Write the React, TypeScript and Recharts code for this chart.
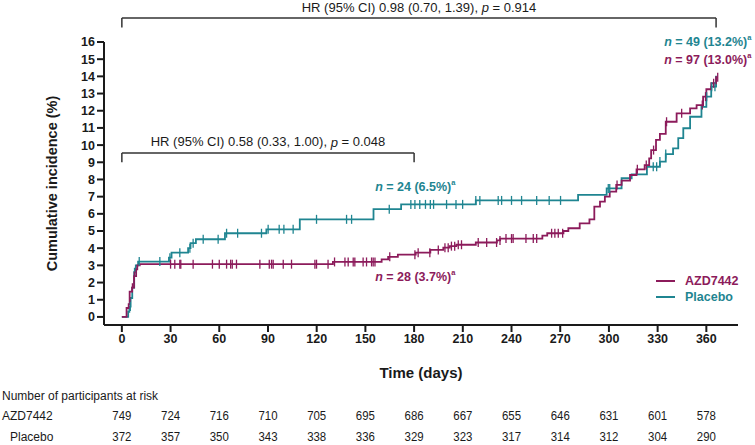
import React from 'react';
import { LineChart, Line, XAxis, YAxis, ReferenceLine, ReferenceDot } from 'recharts';

const PURPLE = '#8C1B5B';
const TEAL = '#1F8591';
const INK = '#1a1a1a';
const FONT = '"Liberation Sans", Arial, sans-serif';

const xTicks = [0, 30, 60, 90, 120, 150, 180, 210, 240, 270, 300, 330, 360];
const yTicks = [0, 1, 2, 3, 4, 5, 6, 7, 8, 9, 10, 11, 12, 13, 14, 15, 16];
const atRiskAZD = [749, 724, 716, 710, 705, 695, 686, 667, 655, 646, 631, 601, 578];
const atRiskPlacebo = [372, 357, 350, 343, 338, 336, 329, 323, 317, 314, 312, 304, 290];

// Kaplan-Meier style steps: [day, cumulative incidence %]
const azdSteps: [number, number][] = [
  [0, 0], [2.9, 0.52], [4.2, 0.75], [4.8, 1.47], [6.3, 1.7], [7.5, 2.38], [8.8, 2.77], [9.5, 3.0], [11, 3.07],
  [130, 3.2], [160, 3.35], [164, 3.5], [170, 3.62], [181, 3.74], [190, 3.9], [198, 4.03], [202, 4.12], [206, 4.2],
  [218, 4.33], [231, 4.45], [233, 4.56], [259, 4.73], [262, 4.87], [272, 5.0], [275, 5.16], [282, 5.45], [288, 5.68],
  [291, 6.42], [294.5, 6.71], [297.5, 7.0], [300.5, 7.29], [304.5, 7.68], [307.8, 7.93], [313, 8.26], [317, 8.59],
  [322, 8.84], [324.8, 9.23], [326, 9.71], [329, 10.3], [331.4, 10.65], [335, 11.36], [341.7, 11.85], [350, 12.14],
  [354, 12.33], [358, 12.82], [360, 13.25], [363, 13.6], [366, 13.95], [367, 13.95],
];
const azdCensors = [
  6.5, 7.7, 30, 32.6, 35.7, 36.3, 43.9, 55.8, 60, 64.5, 67, 68, 70.6, 85, 90.8, 92.2, 93.2, 99.4, 104.5, 118.9, 119.9,
  127, 131, 137.4, 139.4, 142.5, 143.5, 148.6, 150.7, 153.8, 154.8, 155.9, 165, 180.5, 182.5, 189.7, 194.9, 199, 201,
  203, 205, 207.2, 209.2, 219.5, 224.7, 230.8, 232.9, 236.6, 240, 241, 248.9, 253.4, 255.5, 264.7, 266.7, 268.8, 271.5,
  305, 317.5, 323, 327.5, 335.5, 344.8, 357.5, 359.5, 364.5, 367,
];

const placeboSteps: [number, number][] = [
  [0, 0], [3.9, 0.3], [4.6, 0.6], [5.4, 1.1], [6.4, 1.7], [7.6, 2.6], [8.6, 3.0], [10, 3.22],
  [29, 3.45], [30.6, 3.74], [40.8, 4.0], [42.3, 4.29], [45.6, 4.52], [63.5, 4.87], [89, 5.1], [109.6, 5.68],
  [155, 6.27], [172, 6.55], [218, 6.78], [281, 7.1], [298.6, 7.48], [307.8, 8.07], [314, 8.3], [323.4, 8.74],
  [331.4, 9.04], [335, 9.48], [339.5, 9.81], [342.7, 10.4], [345.8, 10.98], [350, 11.65], [357, 12.23], [360, 12.82],
  [363, 13.4], [366, 13.98], [366.5, 13.98],
];
const placeboCensors = [
  5.2, 7.8, 10.7, 23.4, 29.6, 35.7, 41.9, 43.9, 50.1, 59.3, 64.5, 71.3, 86, 90.1, 96.9, 99.8, 105.5, 119.9, 138.4,
  141.5, 164.7, 178, 180.5, 183.5, 187, 190, 192, 200, 205.8, 209.9, 218, 220.5, 231.8, 233.9, 240, 246.2, 255.5,
  263.2, 270.2, 299.6, 300.5, 327.3, 329.4, 331.4, 335, 360.2, 363.3, 365.3,
];

type Pt = { t: number; v: number; c: boolean };
function buildSeries(steps: [number, number][], censors: number[]): Pt[] {
  const pts: Pt[] = steps.map(([t, v]) => ({ t, v, c: false }));
  censors.forEach((ct) => {
    let v = 0;
    steps.forEach(([t, sv]) => {
      if (t <= ct) v = sv;
    });
    pts.push({ t: ct, v, c: true });
  });
  pts.sort((a, b) => a.t - b.t || (a.c ? 1 : 0) - (b.c ? 1 : 0));
  return pts;
}
const azdData = buildSeries(azdSteps, azdCensors);
const placeboData = buildSeries(placeboSteps, placeboCensors);

const censorDot = (color: string) => (props: any) => {
  const { cx, cy, payload, index } = props;
  if (!payload || !payload.c || cx == null || cy == null) return <g key={`d${index}`} />;
  return (
    <line key={`d${index}`} x1={cx} x2={cx} y1={cy - 4.5} y2={cy + 4.5} stroke={color} strokeWidth={1.3} />
  );
};

const centerOf = (vb: any) => ({ x: vb.x + (vb.width || 0) / 2, y: vb.y + (vb.height || 0) / 2 });

const hrLabel = (pre: string, post: string) => (props: any) => {
  const c = centerOf(props.viewBox);
  return (
    <text x={c.x} y={c.y} textAnchor="middle" dominantBaseline="central" fontFamily={FONT} fontSize={13} fill={INK}>
      {pre}
      <tspan fontStyle="italic">p</tspan>
      {post}
    </text>
  );
};

const nLabel = (count: string, pct: string, color: string) => (props: any) => {
  const c = centerOf(props.viewBox);
  return (
    <text x={c.x} y={c.y} textAnchor="start" dominantBaseline="central" fontFamily={FONT} fontSize={12.5} fontWeight={700} fill={color}>
      <tspan fontStyle="italic">n</tspan>
      {` = ${count} (${pct})`}
      <tspan fontSize={7.5} dy={-5}>a</tspan>
    </text>
  );
};

const riskLabel = (value: number) => (props: any) => {
  const c = centerOf(props.viewBox);
  return (
    <text transform={`translate(${c.x} ${c.y}) scale(0.88 1)`} x={0} y={0} textAnchor="middle" dominantBaseline="central" fontFamily={FONT} fontSize={13} fill={INK}>
      {String(value)}
    </text>
  );
};

const yLabel = (props: any) => {
  const vb = props.viewBox;
  const cx = vb.x + 8;
  const cy = vb.y + vb.height / 2;
  return (
    <text x={cx} y={cy} transform={`rotate(-90 ${cx} ${cy})`} textAnchor="middle" dominantBaseline="central" fontFamily={FONT} fontSize={14.5} fontWeight={700} fill={INK}>
      Cumulative incidence (%)
    </text>
  );
};

const tickStyle = { fontSize: 12.5, fontWeight: 700, fill: INK, fontFamily: FONT };

const rowLabel: React.CSSProperties = {
  position: 'absolute',
  fontFamily: FONT,
  fontSize: 12,
  color: INK,
  height: 16,
  lineHeight: '16px',
  whiteSpace: 'nowrap',
};

const ROW_AZD = -5.74;
const ROW_PLACEBO = -7.0;

export default function App() {
  return (
    <div style={{ position: 'absolute', left: 0, top: 0, width: 755, height: 445, background: '#fff', overflow: 'hidden' }}>
      <LineChart width={755} height={445} margin={{ top: 42, right: 17, bottom: 0, left: 44 }}>
        <XAxis
          xAxisId="main"
          type="number"
          dataKey="t"
          domain={[-11, 379.5]}
          ticks={xTicks}
          interval={0}
          allowDataOverflow
          height={120}
          tickSize={7}
          tickMargin={2}
          tick={tickStyle}
          stroke={INK}
          strokeWidth={2}
          label={{ value: 'Time (days)', position: 'insideTop', offset: 42, fontSize: 15, fontWeight: 700, fill: INK, fontFamily: FONT }}
        />
        <YAxis
          type="number"
          domain={[-0.47, 16]}
          ticks={yTicks}
          interval={0}
          allowDataOverflow
          width={60}
          tickSize={7}
          tickMargin={2}
          tick={tickStyle}
          stroke={INK}
          strokeWidth={2}
          label={{ content: yLabel }}
        />

        {/* HR brackets */}
        <ReferenceLine xAxisId="main" ifOverflow="visible" stroke="#333" strokeWidth={1.5} segment={[{ x: 0, y: 17.39 }, { x: 366, y: 17.39 }]} />
        <ReferenceLine xAxisId="main" ifOverflow="visible" stroke="#333" strokeWidth={1.5} segment={[{ x: 0, y: 17.39 }, { x: 0, y: 16.85 }]} />
        <ReferenceLine xAxisId="main" ifOverflow="visible" stroke="#333" strokeWidth={1.5} segment={[{ x: 366, y: 17.39 }, { x: 366, y: 16.85 }]} />
        <ReferenceLine xAxisId="main" ifOverflow="visible" stroke="#333" strokeWidth={1.5} segment={[{ x: 0, y: 9.54 }, { x: 180, y: 9.54 }]} />
        <ReferenceLine xAxisId="main" ifOverflow="visible" stroke="#333" strokeWidth={1.5} segment={[{ x: 0, y: 9.54 }, { x: 0, y: 9.0 }]} />
        <ReferenceLine xAxisId="main" ifOverflow="visible" stroke="#333" strokeWidth={1.5} segment={[{ x: 180, y: 9.54 }, { x: 180, y: 9.0 }]} />

        <ReferenceDot xAxisId="main" x={183} y={18.03} r={0} fill="none" stroke="none" ifOverflow="visible"
          label={{ content: hrLabel('HR (95% CI) 0.98 (0.70, 1.39), ', ' = 0.914') }} />
        <ReferenceDot xAxisId="main" x={90} y={10.2} r={0} fill="none" stroke="none" ifOverflow="visible"
          label={{ content: hrLabel('HR (95% CI) 0.58 (0.33, 1.00), ', ' = 0.048') }} />
        <ReferenceDot xAxisId="main" x={156} y={7.56} r={0} fill="none" stroke="none" ifOverflow="visible"
          label={{ content: nLabel('24', '6.5%', TEAL) }} />
        <ReferenceDot xAxisId="main" x={156} y={2.33} r={0} fill="none" stroke="none" ifOverflow="visible"
          label={{ content: nLabel('28', '3.7%', PURPLE) }} />
        <ReferenceDot xAxisId="main" x={334} y={16.02} r={0} fill="none" stroke="none" ifOverflow="visible"
          label={{ content: nLabel('49', '13.2%', TEAL) }} />
        <ReferenceDot xAxisId="main" x={334} y={14.95} r={0} fill="none" stroke="none" ifOverflow="visible"
          label={{ content: nLabel('97', '13.0%', PURPLE) }} />

        {/* Number at risk table, aligned to the x scale */}
        {xTicks.map((t, i) => (
          <ReferenceDot key={`ra${t}`} xAxisId="main" x={t} y={ROW_AZD} r={0} fill="none" stroke="none" ifOverflow="visible"
            label={{ content: riskLabel(atRiskAZD[i]) }} />
        ))}
        {xTicks.map((t, i) => (
          <ReferenceDot key={`rp${t}`} xAxisId="main" x={t} y={ROW_PLACEBO} r={0} fill="none" stroke="none" ifOverflow="visible"
            label={{ content: riskLabel(atRiskPlacebo[i]) }} />
        ))}

        <Line
          xAxisId="main"
          data={placeboData}
          dataKey="v"
          type="stepAfter"
          stroke={TEAL}
          strokeWidth={1.8}
          dot={censorDot(TEAL)}
          activeDot={false}
          isAnimationActive={false}
        />
        <Line
          xAxisId="main"
          data={azdData}
          dataKey="v"
          type="stepAfter"
          stroke={PURPLE}
          strokeWidth={1.8}
          dot={censorDot(PURPLE)}
          activeDot={false}
          isAnimationActive={false}
        />
      </LineChart>

      {/* Legend */}
      <div style={{ position: 'absolute', left: 656, top: 280, width: 19, height: 2, background: PURPLE }} />
      <div style={{ position: 'absolute', left: 685, top: 272, height: 18, lineHeight: '18px', fontFamily: FONT, fontWeight: 700, fontSize: 12.5, color: PURPLE }}>AZD7442</div>
      <div style={{ position: 'absolute', left: 656, top: 296, width: 19, height: 2, background: TEAL }} />
      <div style={{ position: 'absolute', left: 685, top: 288, height: 18, lineHeight: '18px', fontFamily: FONT, fontWeight: 700, fontSize: 12.5, color: TEAL }}>Placebo</div>

      {/* At-risk table row labels */}
      <div style={{ ...rowLabel, left: 2, top: 388 }}>Number of participants at risk</div>
      <div style={{ ...rowLabel, left: 2, top: 408 }}>AZD7442</div>
      <div style={{ ...rowLabel, left: 10, top: 429 }}>Placebo</div>
    </div>
  );
}
